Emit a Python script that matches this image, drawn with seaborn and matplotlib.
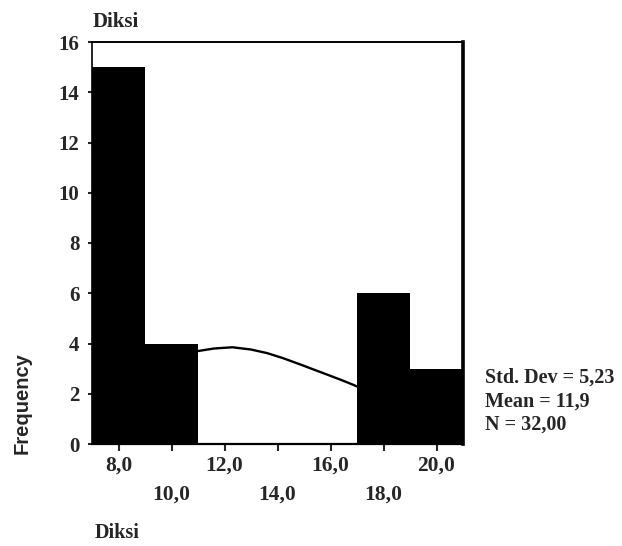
"""
SPSS-style histogram of Diksi scores with a normal curve.
"""

import matplotlib
matplotlib.use('Agg')
import matplotlib.pyplot as plt
import seaborn as sns

sns.set_style('white')
plt.rcParams['font.family'] = ['Liberation Serif', 'DejaVu Serif']

# data
bin_centers = [8, 10, 12, 14, 16, 18, 20]
counts = [15, 4, 0, 0, 0, 6, 3]
x_ticks = [8, 10, 12, 14, 16, 18, 20]
x_tick_labels = ['8,0', '10,0', '12,0', '14,0', '16,0', '18,0', '20,0']
y_ticks = [0, 2, 4, 6, 8, 10, 12, 14, 16]
curve_x = [10.6, 11.0, 11.6, 12.3, 13.0, 13.6, 14.2, 14.85, 15.4, 15.98, 16.4, 16.85, 17.3]
curve_y = [3.62, 3.70, 3.80, 3.85, 3.76, 3.62, 3.42, 3.17, 2.95, 2.72, 2.55, 2.36, 2.15]
stats_lines = ['Std. Dev = 5,23', 'Mean = 11,9', 'N = 32,00']
var_name = 'Diksi'

fig = plt.figure(figsize=(6.22, 5.46), dpi=100)
ax = fig.add_axes([92 / 622, 1 - 444 / 546, 371 / 622, 402 / 546])

# normal curve first so the bars hide it
sns.lineplot(x=curve_x, y=curve_y, color='black', linewidth=1.7, ax=ax, zorder=1)
sns.histplot(
    x=bin_centers,
    weights=counts,
    binwidth=2,
    binrange=(7, 21),
    color='black',
    edgecolor='black',
    linewidth=0,
    alpha=1,
    ax=ax,
    zorder=2,
)

ax.set_xlim(7, 21)
ax.set_ylim(0, 16)
ax.set_xlabel('')
ax.set_ylabel('')

ax.set_yticks(y_ticks)
ax.set_yticklabels([str(v) for v in y_ticks], fontsize=15, fontweight='bold')
ax.set_xticks(x_ticks)
ax.set_xticklabels(x_tick_labels, fontsize=15.5, fontweight='bold')
ax.tick_params(axis='x', direction='out', length=5, width=1.5, pad=3, bottom=True)
ax.tick_params(axis='y', direction='out', length=3, width=1.5, pad=6, left=True)

# staggered x labels like SPSS
for tick in ax.xaxis.get_major_ticks()[1::2]:
    tick.set_pad(24)

for side, lw in {'left': 1.2, 'top': 1.4, 'right': 2.6, 'bottom': 1.6}.items():
    ax.spines[side].set_visible(True)
    ax.spines[side].set_color('black')
    ax.spines[side].set_linewidth(lw)

fig.text(93 / 622, 1 - 22 / 546, var_name, fontsize=15, fontweight='bold',
         ha='left', va='center')
fig.text(95 / 622, 1 - 533 / 546, var_name, fontsize=14.5, fontweight='bold',
         ha='left', va='center')
fig.text(22 / 622, 1 - 403 / 546, 'Frequency', fontsize=14.5, fontweight='bold',
         family=['Liberation Sans', 'DejaVu Sans'], rotation=90,
         ha='center', va='center')

for i, line in enumerate(stats_lines):
    fig.text(485 / 622, 1 - (378 + i * 23.5) / 546, line, fontsize=14.5,
             fontweight='bold', ha='left', va='center')

plt.savefig('out.png', dpi=100)
plt.close()
